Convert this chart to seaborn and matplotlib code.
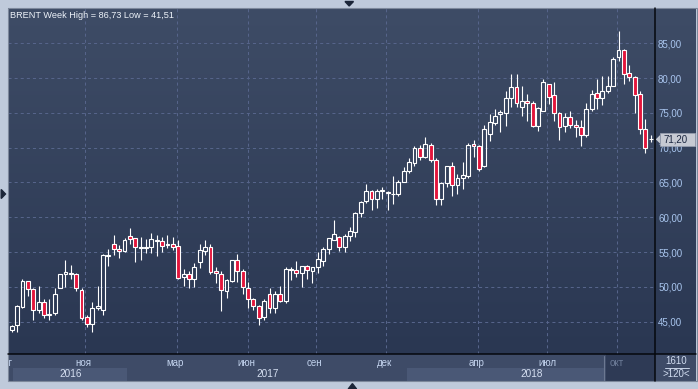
import numpy as np
import seaborn as sns
import matplotlib
matplotlib.use("Agg")
import matplotlib.pyplot as plt
from matplotlib.patches import Rectangle, Polygon
import matplotlib.transforms as mtransforms

# ---------------- data (weekly BRENT candles) ----------------
opens = [43.75, 44.5, 47.1, 50.8, 49.7, 46.7, 47.9, 46.0, 46.2, 49.9,
         51.8, 51.9, 51.9, 49.5, 45.7, 44.7, 47.0, 46.7, 54.5, 56.2,
         55.4, 55.2, 57.3, 57.0, 55.6, 55.6, 55.7, 56.6, 56.6, 56.0,
         56.1, 55.9, 51.4, 51.8, 51.1, 53.6, 55.2, 55.7, 52.3, 51.9,
         49.4, 50.9, 53.8, 52.3, 49.9, 48.3, 47.3, 45.7, 49.0, 46.9,
         49.0, 48.0, 52.6, 52.5, 52.0, 53.0, 52.3, 52.8, 53.7, 55.5,
         56.8, 57.1, 55.7, 57.3, 57.9, 60.6, 62.4, 63.8, 62.7, 63.8,
         63.7, 63.3, 63.3, 65.1, 66.6, 67.8, 69.9, 68.7, 70.4, 68.25,
         62.7, 64.9, 67.3, 64.6, 65.6, 66.0, 70.5, 70.3, 67.3, 72.0,
         73.6, 74.8, 75.0, 77.1, 78.7, 75.9, 76.75, 76.4, 73.05, 75.3,
         79.1, 77.6, 75.0, 73.05, 74.4, 73.3, 73.0, 71.8, 75.5, 77.85,
         77.1, 78.1, 78.9, 83.1, 84.1, 80.7, 80.2, 77.7, 72.7, 71.2]
highs = [44.5, 47.4, 51.2, 50.9, 49.9, 50.2, 48.2, 48.3, 49.8, 51.9,
         53.8, 53.2, 51.95, 49.8, 45.9, 47.8, 50.1, 54.7, 55.4, 57.5,
         56.0, 57.0, 58.4, 57.05, 57.2, 56.9, 57.7, 57.4, 57.2, 57.4,
         57.1, 56.7, 52.6, 52.3, 53.5, 56.2, 56.7, 56.1, 52.9, 52.3,
         51.2, 53.85, 54.7, 52.6, 50.7, 48.4, 47.4, 48.3, 49.9, 49.4,
         50.2, 52.9, 52.9, 53.7, 53.05, 53.1, 52.9, 55.0, 55.8, 57.05,
         59.6, 57.3, 57.6, 58.6, 60.8, 62.4, 64.8, 63.9, 64.0, 64.4,
         63.8, 65.9, 65.4, 67.2, 68.5, 70.3, 70.4, 71.5, 70.65, 68.5,
         65.1, 67.4, 68.0, 66.2, 67.9, 70.65, 71.1, 70.35, 73.2, 74.9,
         75.5, 75.45, 78.1, 80.6, 80.6, 78.9, 77.7, 76.75, 75.9, 79.8,
         79.15, 79.5, 75.1, 75.0, 75.3, 74.0, 74.0, 76.4, 78.3, 79.8,
         80.25, 80.25, 83.0, 86.73, 84.15, 81.9, 80.25, 78.1, 74.1, 71.85]
lows = [43.5, 43.5, 46.9, 48.7, 45.3, 46.3, 45.5, 45.2, 45.9, 49.8,
        50.0, 51.2, 49.4, 45.2, 44.3, 43.5, 46.7, 46.0, 53.0, 54.6,
        54.1, 55.0, 56.2, 53.6, 53.8, 54.8, 54.8, 54.5, 55.0, 55.6,
        55.3, 51.1, 50.2, 49.8, 50.0, 52.7, 54.6, 51.9, 50.5, 46.6,
        48.4, 50.7, 50.7, 49.0, 46.9, 46.7, 44.5, 45.2, 46.3, 46.2,
        47.8, 47.7, 51.0, 51.4, 50.0, 51.2, 50.6, 52.0, 53.0, 54.7,
        56.7, 55.2, 55.0, 56.6, 57.2, 60.0, 62.1, 61.1, 61.4, 62.6,
        61.05, 61.9, 63.0, 65.0, 66.3, 67.4, 68.2, 68.5, 68.0, 61.8,
        61.8, 64.4, 63.1, 63.3, 64.1, 65.6, 68.7, 66.7, 67.2, 70.9,
        73.2, 72.3, 73.05, 75.8, 75.9, 74.5, 73.8, 73.0, 72.4, 75.3,
        76.3, 73.8, 71.1, 72.3, 72.8, 71.5, 70.3, 71.6, 75.3, 75.6,
        76.2, 77.8, 78.85, 82.4, 79.1, 79.6, 75.0, 71.95, 69.2, 70.8]
closes = [44.45, 47.2, 50.8, 49.7, 46.7, 47.9, 46.0, 46.15, 49.0, 51.8,
          52.1, 52.0, 49.8, 45.6, 44.6, 46.9, 47.2, 54.6, 54.55, 55.4,
          55.1, 56.8, 56.9, 55.7, 55.7, 55.7, 56.9, 56.8, 55.9, 56.1,
          55.7, 51.3, 51.9, 51.1, 52.8, 55.3, 55.7, 52.1, 52.0, 49.5,
          51.0, 53.8, 52.3, 50.0, 48.3, 47.3, 45.6, 48.0, 47.0, 49.0,
          48.0, 52.6, 52.4, 52.0, 53.0, 52.4, 52.8, 54.0, 55.5, 57.0,
          57.6, 55.7, 57.3, 58.0, 60.6, 62.2, 63.8, 62.7, 63.8, 63.9,
          63.5, 63.4, 65.0, 66.7, 67.9, 70.0, 68.7, 70.5, 68.25, 62.6,
          64.9, 67.3, 64.6, 65.6, 66.1, 70.4, 70.2, 66.9, 72.7, 73.7,
          74.6, 75.1, 77.1, 78.7, 76.4, 76.65, 76.4, 73.05, 75.7, 79.4,
          77.3, 75.0, 73.0, 74.4, 73.3, 73.0, 71.8, 75.5, 77.75, 77.1,
          78.2, 78.9, 82.8, 84.1, 80.6, 80.2, 77.6, 72.7, 69.9, 71.2]

month_labels = ["авг", "ноя", "мар", "июн", "сен", "дек", "апр", "июл", "окт"]
month_pos = [-0.7, 13.67, 30.74, 43.92, 56.7, 69.7, 86.77, 99.76, 112.75]
year_labels = ["2016", "2017", "2018"]
year_pos = [11.45, 48.0, 96.98]
y_ticks = [45, 50, 55, 60, 65, 70, 75, 80, 85]
title = "BRENT Week High = 86,73 Low = 41,51"
last_price = 71.20
counter_top = "1610"
counter_bottom = ">120<"

# ---------------- style ----------------
sns.set_theme(style="dark")
plt.rcParams['font.family'] = ['Liberation Sans', 'DejaVu Sans']
plt.rcParams['lines.scale_dashes'] = False

W, H = 698, 389
fig = plt.figure(figsize=(W / 100, H / 100), dpi=100)
fig.patch.set_facecolor('#bfcadb')

RED = '#e3163c'
TICK_COL = '#a9c5ee'

# background (pixel coordinates)
bg = fig.add_axes([0, 0, 1, 1], zorder=0)
grad = np.linspace(0, 1, 256)[:, None, None]
top_c = np.array([62, 76, 102]) / 255
bot_c = np.array([42, 55, 82]) / 255
img = top_c[None, None, :] * (1 - grad) + bot_c[None, None, :] * grad
img = np.repeat(img, 2, axis=1)
bg.imshow(img, extent=(8, 696, 354, 8), aspect='auto', interpolation='bilinear')
bg.add_patch(Rectangle((8, 354), 688, 27, color='#3e4b67', lw=0))
bg.add_patch(Rectangle((12.7, 367.7), 114, 13.3, color='#4a5876', lw=0))
bg.add_patch(Rectangle((407, 367.7), 197, 13.3, color='#4a5876', lw=0))
bg.add_patch(Rectangle((605.5, 354), 49.5, 27, color='#2e3a55', lw=0))
bg.plot([604.2, 604.2], [356, 380], color='#6c7891', lw=0.8)
bg.set_xlim(0, W)
bg.set_ylim(H, 0)
bg.axis('off')

# main axes
ax = fig.add_axes([8 / W, 1 - 354 / H, 647 / W, 346 / H], zorder=2)
ax.set_facecolor('none')
o = np.array(opens); h = np.array(highs); l = np.array(lows); c = np.array(closes)
x = np.arange(len(o))
up = c >= o
bw = 0.72
ax.bar(x[up], (c - o)[up], bottom=o[up], width=bw, facecolor='none',
       edgecolor='white', linewidth=0.8, zorder=3)
ax.bar(x[~up], (c - o)[~up], bottom=o[~up], width=bw, facecolor=RED,
       edgecolor='white', linewidth=0.8, zorder=3)
body_top = np.maximum(o, c)
body_bot = np.minimum(o, c)
ax.vlines(x, body_top, h, colors='white', linewidth=0.8, zorder=3)
ax.vlines(x, l, body_bot, colors='white', linewidth=0.8, zorder=3)

ax.set_xlim(-0.24, 119.79)
ax.set_ylim(40.36, 90.07)
ax.set_xticks(month_pos)
ax.set_xticklabels([])
ax.yaxis.tick_right()
ax.set_yticks(y_ticks)
ax.set_yticklabels([f"{v:.2f}".replace('.', ',') for v in y_ticks])
ax.tick_params(axis='x', length=0, labelbottom=False)
ax.tick_params(axis='y', length=0, pad=2.2, labelsize=7, labelcolor=TICK_COL)
ax.grid(True, color='#56648a', linestyle=(0, (2.2, 2.2)), linewidth=0.75)
for s in ax.spines.values():
    s.set_visible(False)

# current price tag
bt = mtransforms.blended_transform_factory(ax.transAxes, ax.transData)
ax.add_patch(Rectangle((1.0077, last_price - 0.95), 0.054, 1.9, transform=bt,
                       facecolor='#c6cad3', edgecolor='#9aa2b2', lw=0.5,
                       clip_on=False, zorder=6))
ax.add_patch(Polygon([(1.0012, last_price), (1.0077, last_price + 0.6),
                      (1.0077, last_price - 0.6)], closed=True, transform=bt,
                     facecolor='#c6cad3', edgecolor='none', clip_on=False, zorder=6))
ax.text(1.0125, last_price, f"{last_price:.2f}".replace('.', ','), transform=bt,
        ha='left', va='center', fontsize=7, color='#1c2740', clip_on=False, zorder=7)

# x strip with month / year labels
strip = fig.add_axes([8 / W, 1 - 381 / H, 647 / W, 27 / H], zorder=3)
strip.set_facecolor('none')
strip.set_xlim(-0.24, 119.79)
strip.set_ylim(0, 1)
strip.axis('off')
for lab, pos in zip(month_labels, month_pos):
    col = '#6d7c98' if lab == "окт" else '#c3d3ee'
    strip.text(pos, 0.66, lab, ha='center', va='center', fontsize=7,
               color=col, clip_on=True)
for lab, pos in zip(year_labels, year_pos):
    strip.text(pos, 0.26, lab, ha='center', va='center', fontsize=7.2,
               color='#d6e0f2', clip_on=True)

# overlay (frame lines, handles, texts)
ov = fig.add_axes([0, 0, 1, 1], zorder=5)
ov.set_facecolor('none')
ov.set_xlim(0, W)
ov.set_ylim(H, 0)
ov.axis('off')
ov.add_patch(Rectangle((7.5, 7.5), 689, 373.5, fill=False, edgecolor='#7d889b', lw=0.8))
ov.plot([655.3, 655.3], [8, 381], color='#05080d', lw=1.1)
ov.plot([8, 696], [354.3, 354.3], color='#05080d', lw=1.1)
ov.add_patch(Polygon([(345, 1.5), (353.5, 1.5), (349.2, 6)], closed=True, color='#1b2538'))
ov.add_patch(Polygon([(348.2, 389), (356.6, 389), (352.4, 383.6)], closed=True, color='#1b2538'))
ov.add_patch(Polygon([(1.2, 189.5), (1.2, 198.5), (5.5, 194)], closed=True, color='#1b2538'))
ov.text(10, 18.3, title, ha='left', va='baseline', fontsize=6.6, color='#eef3fa')
ov.text(676.5, 361.5, counter_top, ha='center', va='center', fontsize=7, color='#d0dbef')
ov.plot([665, 689], [367.7, 367.7], color='#c8d4e8', lw=0.7)
ov.text(676.5, 374.3, counter_bottom, ha='center', va='center', fontsize=7, color='#d0dbef')

fig.savefig("out.png", dpi=100, facecolor=fig.get_facecolor())
